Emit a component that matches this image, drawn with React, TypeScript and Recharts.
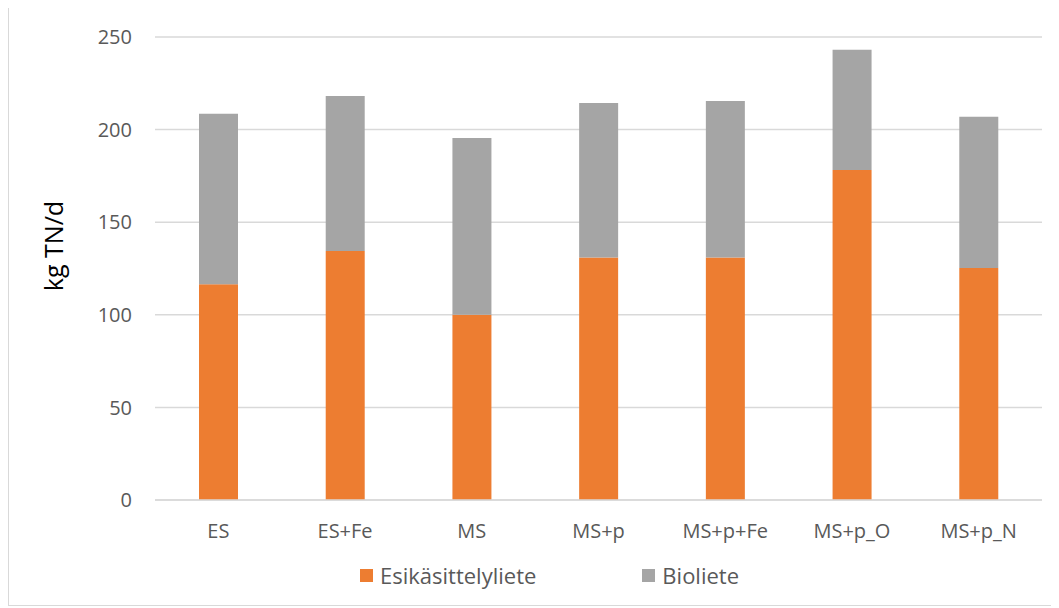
import { BarChart, Bar, XAxis, YAxis, CartesianGrid, Legend } from 'recharts';

const categories = ['ES', 'ES+Fe', 'MS', 'MS+p', 'MS+p+Fe', 'MS+p_O', 'MS+p_N'];
const esikasittelyliete = [116.5, 134.4, 100, 131, 131, 178.2, 125.3];
const bioliete = [92, 83.8, 95.5, 83.3, 84.4, 64.9, 81.7];
const yTicks = [0, 50, 100, 150, 200, 250];

const data = categories.map((name, i) => ({
  name,
  esi: esikasittelyliete[i],
  bio: bioliete[i],
}));

const FONT = '"Open Sans", sans-serif';
const TEXT = '#595959';
const ORANGE = '#ED7D31';
const GRAY = '#A5A5A5';

// axis title sits a bit above the middle of the plot
function YLabel() {
  const x = 44;
  const y = 239;
  return (
    <text
      x={x}
      y={y}
      transform={`rotate(-90 ${x} ${y})`}
      textAnchor="middle"
      dominantBaseline="central"
      fill="#000"
      fontSize={25}
      fontFamily={FONT}
    >
      kg TN/d
    </text>
  );
}

function LegendContent() {
  const items = [
    { label: 'Esikäsittelyliete', color: ORANGE },
    { label: 'Bioliete', color: GRAY },
  ];
  return (
    <div style={{ display: 'flex', alignItems: 'center', gap: 106, fontFamily: FONT, fontSize: 22, color: TEXT }}>
      {items.map((it) => (
        <div key={it.label} style={{ display: 'flex', alignItems: 'center' }}>
          <span style={{ width: 13, height: 13, background: it.color, marginRight: 7, display: 'inline-block' }} />
          <span>{it.label}</span>
        </div>
      ))}
    </div>
  );
}

export default function App() {
  return (
    <div
      style={{
        position: 'relative',
        marginTop: -2,
        width: 1046,
        height: 600,
        border: '1px solid #D9D9D9',
        boxSizing: 'border-box',
        background: '#fff',
      }}
    >
      <BarChart
        width={1044}
        height={598}
        data={data}
        margin={{ top: 30, right: 11, bottom: 45, left: 0 }}
        barSize={39}
      >
        <CartesianGrid vertical={false} stroke="#D9D9D9" strokeWidth={1.5} />
        <XAxis
          dataKey="name"
          axisLine={{ stroke: '#D9D9D9', strokeWidth: 1.5 }}
          tickLine={false}
          tickSize={0}
          tickMargin={24}
          tick={{ fill: TEXT, fontSize: 20, fontFamily: FONT }}
        />
        <YAxis
          width={146}
          domain={[0, 250]}
          ticks={yTicks}
          axisLine={false}
          tickLine={false}
          tickSize={0}
          tickMargin={23}
          tick={{ fill: TEXT, fontSize: 20, fontFamily: FONT }}
          label={<YLabel />}
        />
        <Legend
          content={<LegendContent />}
          wrapperStyle={{ position: 'absolute', left: 351, top: 553, width: 'auto' }}
        />
        <Bar dataKey="esi" name="Esikäsittelyliete" stackId="a" fill={ORANGE} isAnimationActive={false} />
        <Bar dataKey="bio" name="Bioliete" stackId="a" fill={GRAY} isAnimationActive={false} />
      </BarChart>
    </div>
  );
}
